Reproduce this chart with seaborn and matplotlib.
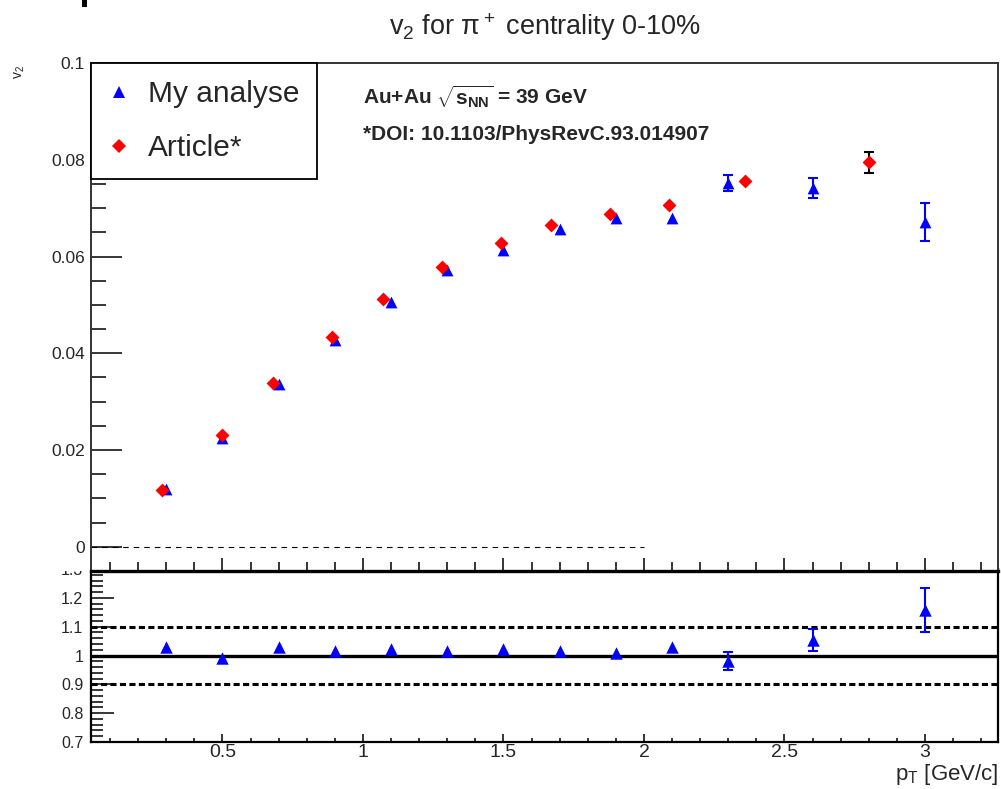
import matplotlib
matplotlib.use("Agg")
import matplotlib.pyplot as plt
from matplotlib.lines import Line2D
from matplotlib.patches import Rectangle
from matplotlib.ticker import MultipleLocator, FuncFormatter
import pandas as pd
import seaborn as sns

# v2 of pi+ (0-10% centrality), this analysis
pt_mine = [0.3, 0.5, 0.7, 0.9, 1.1, 1.3, 1.5, 1.7, 1.9, 2.1, 2.3, 2.6, 3.0]
v2_mine = [0.0120, 0.0225, 0.0337, 0.0428, 0.0506, 0.0572, 0.0614, 0.0657,
           0.0680, 0.0679, 0.0752, 0.0742, 0.0671]
v2_mine_err = [0.0003, 0.0003, 0.0003, 0.0003, 0.0003, 0.0003, 0.0004, 0.0004,
               0.0005, 0.0006, 0.0017, 0.0021, 0.0039]

# published reference values (DOI: 10.1103/PhysRevC.93.014907)
pt_article = [0.285, 0.50, 0.68, 0.89, 1.07, 1.28, 1.49, 1.67, 1.88, 2.09, 2.36, 2.80]
v2_article = [0.0118, 0.0231, 0.0339, 0.0434, 0.0512, 0.0579, 0.0628, 0.0665,
              0.0688, 0.0707, 0.0756, 0.0795]
v2_article_err = [0.0002, 0.0002, 0.0002, 0.0002, 0.0003, 0.0003, 0.0003, 0.0004,
                  0.0005, 0.0006, 0.0008, 0.0022]

# ratio this analysis / published
ratio = [1.031, 0.993, 1.031, 1.017, 1.024, 1.017, 1.024, 1.017, 1.007, 1.031,
         0.980, 1.055, 1.158]
ratio_err = [0.005, 0.005, 0.005, 0.005, 0.006, 0.006, 0.007, 0.007, 0.008, 0.009,
             0.031, 0.038, 0.075]

ratio_ref_lines = [0.9, 1.1]
legend_labels = ["My analyse", "Article*"]

mine = pd.DataFrame({"pt": pt_mine, "v2": v2_mine, "err": v2_mine_err,
                     "ratio": ratio, "ratio_err": ratio_err})
article = pd.DataFrame({"pt": pt_article, "v2": v2_article, "err": v2_article_err})

sns.set_theme(style="ticks")
plt.rcParams["font.family"] = ["Liberation Sans", "DejaVu Sans"]
plt.rcParams["mathtext.fontset"] = "custom"
plt.rcParams["mathtext.rm"] = "Liberation Sans"
plt.rcParams["mathtext.it"] = "Liberation Sans:italic"
plt.rcParams["mathtext.bf"] = "Liberation Sans:bold"
plt.rcParams["mathtext.default"] = "regular"

W, H = 1001, 789
fig = plt.figure(figsize=(W / 100, H / 100), dpi=100)


def fx(px):
    return px / W


def fy(py):
    return 1 - py / H


left, right = 91, 998
ax_top = fig.add_axes([fx(left), fy(571), fx(right - left), fy(63) - fy(571)])
ax_bot = fig.add_axes([fx(left), fy(742), fx(right - left), fy(569) - fy(742)])
ax_bot.set_zorder(0)
ax_top.set_zorder(2)

# white pad behind the upper frame (covers the top of the lower pad)
fig.add_artist(Rectangle((0, fy(571)), fx(left), 1 - fy(571), transform=fig.transFigure,
                         facecolor="white", edgecolor="none", zorder=1))
fig.add_artist(Rectangle((fx(82), fy(7)), fx(5), fy(0) - fy(7), transform=fig.transFigure,
                         facecolor="black", edgecolor="none", zorder=3))

xlim = (0.032, 3.26)
gfmt = FuncFormatter(lambda v, p: f"{v:g}")

# error bars shorter than the marker are hidden under it, so only longer ones are drawn
top_min_err = 0.0012
ratio_min_err = 0.02

# ---------- upper panel ----------
ax = ax_top
ax.set_facecolor("white")
m_big = mine[mine["err"] > top_min_err]
a_big = article[article["err"] > top_min_err]
ax.errorbar(m_big["pt"], m_big["v2"], yerr=m_big["err"], fmt="none", ecolor="blue",
            elinewidth=1.5, capsize=3.3, capthick=1.5, zorder=3)
ax.errorbar(a_big["pt"], a_big["v2"], yerr=a_big["err"], fmt="none", ecolor="black",
            elinewidth=1.5, capsize=3.3, capthick=1.5, zorder=3)
sns.scatterplot(data=mine, x="pt", y="v2", marker="^", color="blue", s=72,
                linewidth=0, ax=ax, zorder=4)
sns.scatterplot(data=article, x="pt", y="v2", marker="D", color="red", s=50,
                linewidth=0, ax=ax, zorder=4)
ax.hlines(0, xlim[0], 2.0, colors="black", linewidth=0.8, linestyles=(0, (5, 4.5)), zorder=2)
ax.set_xlim(*xlim)
ax.set_ylim(-0.005, 0.1)
ax.set_xlabel("")
ax.set_ylabel("")
ax.xaxis.set_major_locator(MultipleLocator(0.5))
ax.xaxis.set_minor_locator(MultipleLocator(0.1))
ax.yaxis.set_major_locator(MultipleLocator(0.02))
ax.yaxis.set_minor_locator(MultipleLocator(0.005))
ax.yaxis.set_major_formatter(gfmt)
ax.tick_params(axis="x", which="both", direction="in", labelbottom=False, width=1.1,
               color="black")
ax.tick_params(axis="x", which="major", length=9.5)
ax.tick_params(axis="x", which="minor", length=6.5)
ax.tick_params(axis="y", which="both", direction="in", width=1.1, color="black",
               labelsize=12.5, pad=4.5)
ax.tick_params(axis="y", which="major", length=22)
ax.tick_params(axis="y", which="minor", length=11)
for side in ["left", "top", "right"]:
    ax.spines[side].set_color("#333333")
    ax.spines[side].set_linewidth(1.4)
ax.spines["bottom"].set_color("black")
ax.spines["bottom"].set_linewidth(2.4)

handles = [
    Line2D([], [], marker="^", color="blue", linestyle="none", markersize=8.5, markeredgewidth=0),
    Line2D([], [], marker="D", color="red", linestyle="none", markersize=7, markeredgewidth=0),
]
leg = ax.legend(handles, legend_labels, loc="upper left", bbox_to_anchor=(0, 1),
                borderaxespad=0, fontsize=21.5, frameon=True, fancybox=False,
                borderpad=0.57, handlelength=0.75, handletextpad=0.6, labelspacing=0.87)
leg.get_frame().set_edgecolor("black")
leg.get_frame().set_linewidth(1.3)
leg.get_frame().set_facecolor("white")
leg.get_frame().set_alpha(1)

# ---------- ratio panel ----------
ax = ax_bot
ax.set_facecolor("white")
ax.axhline(1.0, color="black", linewidth=2.4, zorder=2)
for yv in ratio_ref_lines:
    ax.axhline(yv, color="black", linewidth=2.2, linestyle=(0, (2.0, 1.1)), zorder=2)
r_big = mine[mine["ratio_err"] > ratio_min_err]
ax.errorbar(r_big["pt"], r_big["ratio"], yerr=r_big["ratio_err"], fmt="none", ecolor="blue",
            elinewidth=1.5, capsize=3.3, capthick=1.5, zorder=3)
sns.scatterplot(data=mine, x="pt", y="ratio", marker="^", color="blue", s=80,
                linewidth=0, ax=ax, zorder=4)
ax.set_xlim(*xlim)
ax.set_ylim(0.7, 1.3)
ax.set_xlabel("")
ax.set_ylabel("")
ax.xaxis.set_major_locator(MultipleLocator(0.5))
ax.xaxis.set_minor_locator(MultipleLocator(0.1))
ax.xaxis.set_major_formatter(gfmt)
ax.yaxis.set_major_locator(MultipleLocator(0.1))
ax.yaxis.set_minor_locator(MultipleLocator(0.02))
ax.yaxis.set_major_formatter(gfmt)
ax.tick_params(axis="x", which="both", direction="in", width=1.1, color="black",
               labelsize=14, pad=1.5)
ax.tick_params(axis="x", which="major", length=6)
ax.tick_params(axis="x", which="minor", length=3.2)
ax.tick_params(axis="y", which="both", direction="in", width=1.1, color="black",
               labelsize=11.5, pad=5.5)
ax.tick_params(axis="y", which="major", length=16.5)
ax.tick_params(axis="y", which="minor", length=8.5)
for side in ["left", "bottom", "right", "top"]:
    ax.spines[side].set_color("black")
    ax.spines[side].set_linewidth(1.6)

# ---------- titles and annotations ----------
fig.text(fx(545), fy(35), r"$v_2$ for $\pi^+$ centrality 0-10%", ha="center",
         va="baseline", fontsize=19.5)
fig.text(fx(20), fy(72), r"$v_2$", rotation=90, ha="center", va="center", fontsize=10)
fig.text(fx(363), fy(104), r"Au+Au $\sqrt{s_{NN}}$ = 39 GeV", ha="left", va="baseline",
         fontsize=15, fontweight="bold")
fig.text(fx(363), fy(140), "*DOI: 10.1103/PhysRevC.93.014907", ha="left", va="baseline",
         fontsize=15, fontweight="bold")
fig.text(fx(999), fy(780), r"$p_{T}$ [GeV/c]", ha="right", va="baseline", fontsize=16)

fig.savefig("out.png", dpi=100, facecolor="white")
